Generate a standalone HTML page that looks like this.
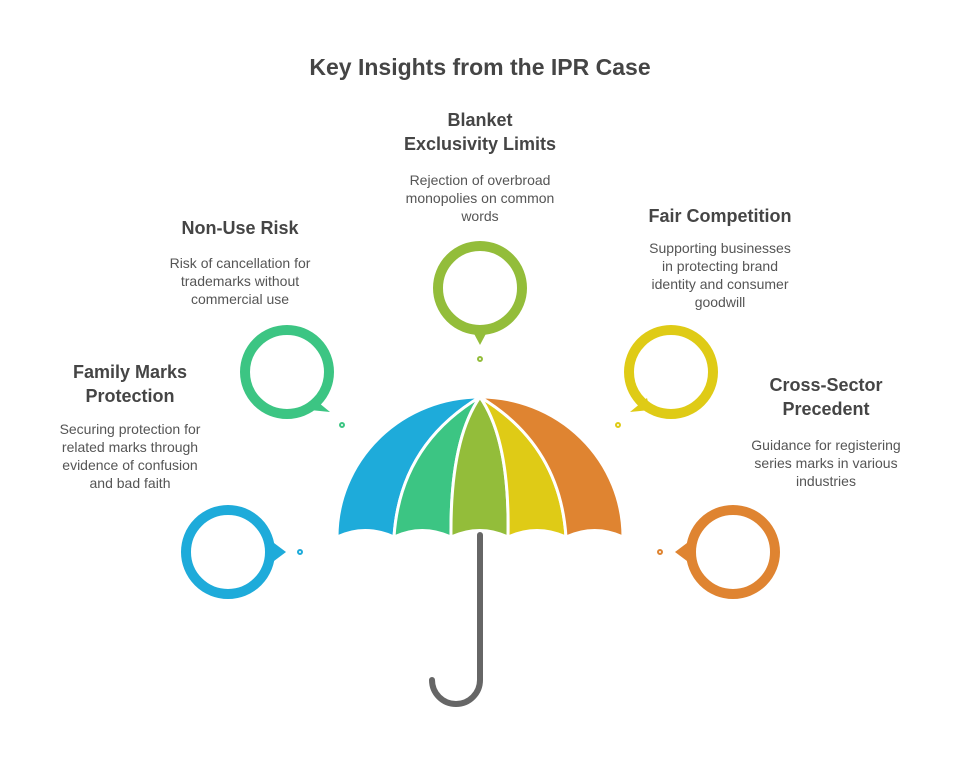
<!DOCTYPE html>
<html><head><style>
body{margin:0;background:#fff;}
svg text{font-family:"Liberation Sans",Arial,sans-serif;}
.h{font-size:18px;font-weight:bold;fill:#454545;text-anchor:middle}
.b{font-size:14px;fill:#555;text-anchor:middle}
</style></head><body>
<svg width="960" height="768" viewBox="0 0 960 768" xmlns="http://www.w3.org/2000/svg">
<text x="480" y="75" font-size="23" font-weight="bold" fill="#454545" text-anchor="middle" style="font-family:'Liberation Sans',sans-serif">Key Insights from the IPR Case</text>

<path d="M480 535 V680 A24 24 0 0 1 432 680" fill="none" stroke="#666" stroke-width="6" stroke-linecap="round"/>
<g stroke="#fff" stroke-width="3" stroke-linejoin="round">
<path d="M480 397 A143 140 0 0 0 337 537 Q365 524 394 537 Q400 445 480 397Z" fill="#1eabda"/>
<path d="M480 397 Q400 445 394 537 Q422 524 451 537 Q450 440 480 397Z" fill="#3cc583"/>
<path d="M480 397 Q450 440 451 537 Q480 524 508 537 Q510 440 480 397Z" fill="#93bd3a"/>
<path d="M480 397 Q510 440 508 537 Q537 524 566 537 Q560 445 480 397Z" fill="#dfcb16"/>
<path d="M480 397 A143 140 0 0 1 623 537 Q595 524 566 537 Q560 445 480 397Z" fill="#df8431"/>
</g>

<g fill="none" stroke-width="10">
<circle cx="228" cy="552" r="42" stroke="#1eabda"/>
<circle cx="287" cy="372" r="42" stroke="#3cc583"/>
<circle cx="480" cy="288" r="42" stroke="#93bd3a"/>
<circle cx="671" cy="372" r="42" stroke="#dfcb16"/>
<circle cx="733" cy="552" r="42" stroke="#df8431"/>
</g>
<polygon points="270,540 286,552 270,564" fill="#1eabda"/>
<polygon points="313,398 330,412 310,410" fill="#3cc583"/>
<polygon points="471,328 480,345 489,328" fill="#93bd3a"/>
<polygon points="647,398 630,412 650,410" fill="#dfcb16"/>
<polygon points="691,540 675,552 691,564" fill="#df8431"/>
<g stroke-width="2" fill="none">
<circle cx="300" cy="552" r="2" stroke="#1eabda"/>
<circle cx="342" cy="425" r="2" stroke="#3cc583"/>
<circle cx="480" cy="359" r="2" stroke="#93bd3a"/>
<circle cx="618" cy="425" r="2" stroke="#dfcb16"/>
<circle cx="660" cy="552" r="2" stroke="#df8431"/>
</g>

<text class="h" x="130" y="378">Family Marks</text>
<text class="h" x="130" y="402">Protection</text>
<text class="b" x="130" y="434">Securing protection for</text>
<text class="b" x="130" y="452">related marks through</text>
<text class="b" x="130" y="470">evidence of confusion</text>
<text class="b" x="130" y="488">and bad faith</text>

<text class="h" x="240" y="234">Non-Use Risk</text>
<text class="b" x="240" y="268">Risk of cancellation for</text>
<text class="b" x="240" y="286">trademarks without</text>
<text class="b" x="240" y="304">commercial use</text>

<text class="h" x="480" y="126">Blanket</text>
<text class="h" x="480" y="150">Exclusivity Limits</text>
<text class="b" x="480" y="185">Rejection of overbroad</text>
<text class="b" x="480" y="203">monopolies on common</text>
<text class="b" x="480" y="221">words</text>

<text class="h" x="720" y="222">Fair Competition</text>
<text class="b" x="720" y="253">Supporting businesses</text>
<text class="b" x="720" y="271">in protecting brand</text>
<text class="b" x="720" y="289">identity and consumer</text>
<text class="b" x="720" y="307">goodwill</text>

<text class="h" x="826" y="391">Cross-Sector</text>
<text class="h" x="826" y="415">Precedent</text>
<text class="b" x="826" y="450">Guidance for registering</text>
<text class="b" x="826" y="468">series marks in various</text>
<text class="b" x="826" y="486">industries</text>
</svg>
</body></html>
